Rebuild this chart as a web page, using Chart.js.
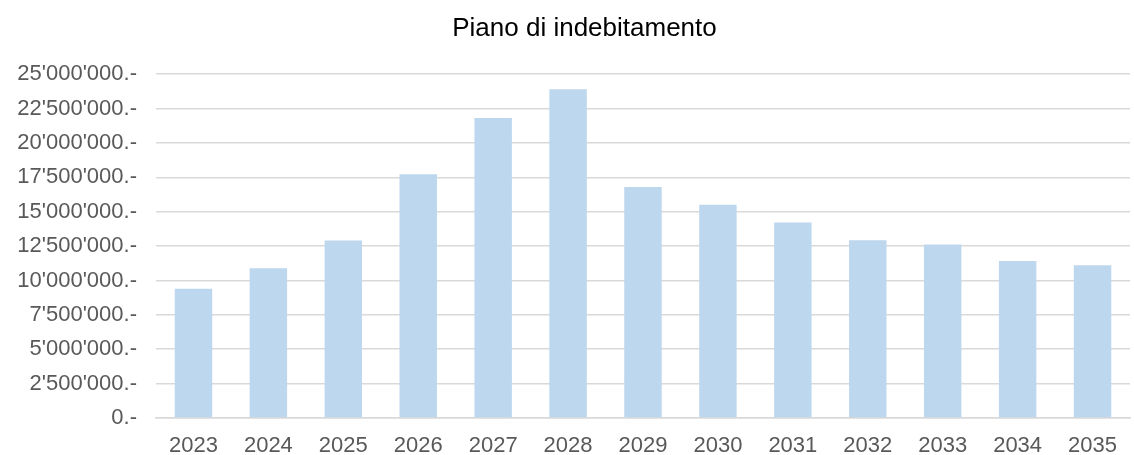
<!DOCTYPE html>
<html>
<head>
<meta charset="utf-8">
<script src="https://cdn.jsdelivr.net/npm/chart.js@4/dist/chart.umd.min.js"></script>
<style>
  html, body { margin: 0; padding: 0; background: #fff; }
  #wrap { width: 1134px; height: 455px; }
</style>
</head>
<body>
<div id="wrap"><canvas id="graphDebito"></canvas></div>
<script>
const anni = ['2023','2024','2025','2026','2027','2028','2029','2030','2031','2032','2033','2034','2035'];
const debito = [9390000, 10890000, 12900000, 17720000, 21810000, 23910000, 16800000, 15510000, 14210000, 12920000, 12610000, 11420000, 11110000];
const yMax = 25000000;
const yStep = 2500000;

function formatCHF(v) {
  return String(v).replace(/\B(?=(\d{3})+(?!\d))/g, "'") + '.-';
}

// the title in the original sits a bit right of the canvas centre
const spostaTitolo = {
  id: 'spostaTitolo',
  afterLayout(chart) {
    if (chart.titleBlock) {
      chart.titleBlock.left = 39;
      chart.titleBlock.right = 1130;
    }
  }
};

const ctx = document.getElementById('graphDebito');
new Chart(ctx, {
  type: 'bar',
  data: {
    labels: anni,
    datasets: [{
      label: 'Debito',
      data: debito,
      backgroundColor: '#bdd7ee',
      borderWidth: 0,
      categoryPercentage: 1,
      barPercentage: 0.5
    }]
  },
  options: {
    responsive: true,
    maintainAspectRatio: false,
    animation: false,
    layout: { padding: { left: 0, right: 4, top: 0, bottom: 0 } },
    plugins: {
      legend: { display: false },
      tooltip: { enabled: false },
      title: {
        display: true,
        text: 'Piano di indebitamento',
        color: '#000',
        font: { family: 'Liberation Sans, Arial, sans-serif', size: 26, weight: 'normal' },
        padding: { top: 13, bottom: 30 }
      }
    },
    scales: {
      x: {
        grid: { display: false, drawTicks: false },
        border: { display: true, color: '#d9d9d9', width: 1.5 },
        ticks: {
          color: '#595959',
          padding: 15,
          maxRotation: 0,
          font: { family: 'Liberation Sans, Arial, sans-serif', size: 22 }
        },
        afterFit: (scale) => { scale.height = 37; }
      },
      y: {
        min: 0,
        max: yMax,
        grid: { color: '#d9d9d9', lineWidth: 1.5, drawTicks: false },
        border: { display: false },
        ticks: {
          stepSize: yStep,
          color: '#595959',
          padding: 19,
          font: { family: 'Liberation Sans, Arial, sans-serif', size: 22 },
          callback: (v) => formatCHF(v)
        },
        afterFit: (scale) => { scale.width = 156; }
      }
    }
  },
  plugins: [spostaTitolo]
});
</script>
</body>
</html>
